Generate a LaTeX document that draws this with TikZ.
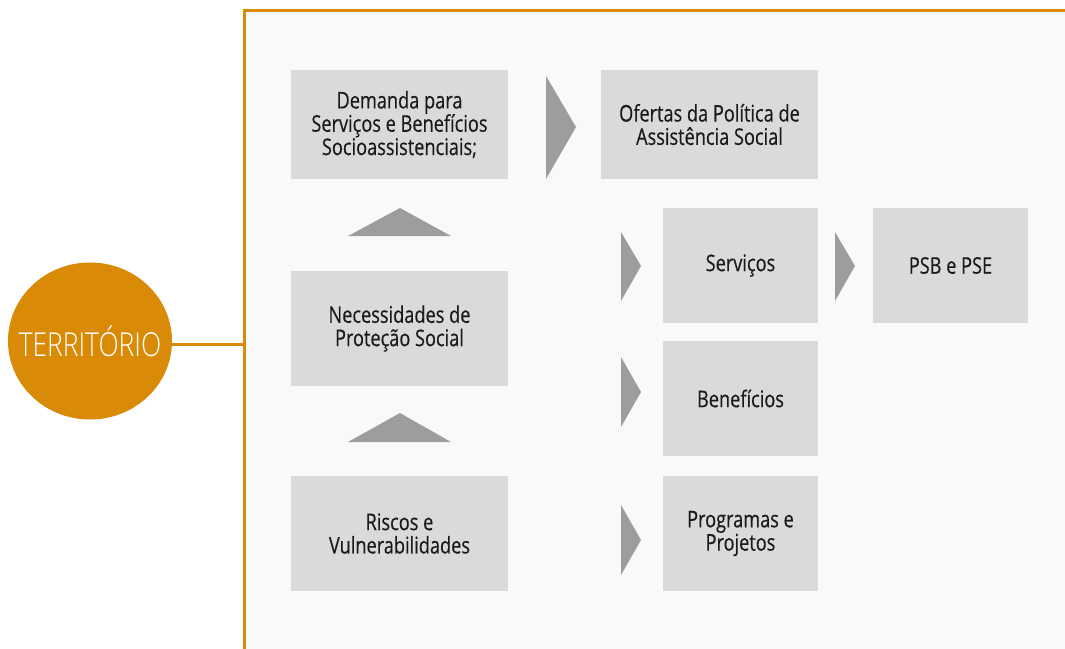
\documentclass[tikz,border=0pt]{standalone}
\usepackage{fontspec}
\setmainfont{Open Sans}[FakeStretch=0.79,FakeBold=0.35]
\newfontfamily\lightfont{Open Sans Light}[FakeStretch=0.8]
\usetikzlibrary{shapes.geometric}
\definecolor{orng}{RGB}{217,138,6}
\definecolor{boxgray}{RGB}{218,218,218}
\definecolor{trigray}{RGB}{157,157,155}
\definecolor{panelbg}{RGB}{249,249,249}
\definecolor{txt}{RGB}{26,26,26}
\tikzset{
  box/.style={fill=boxgray, draw=none, inner sep=0pt, align=center, text=txt,
    font=\fontsize{23}{23.3}\selectfont},
  tri/.style={fill=trigray, draw=none},
}
\begin{document}
\begin{tikzpicture}[x=1pt,y=-1pt]
\useasboundingbox (0,0) rectangle (1065,648);
% panel
\fill[panelbg] (244,10) rectangle (1068,652);
\draw[orng, line width=3pt] (244,652) -- (244,10) -- (1068,10);
\coordinate (pl) at (244,344);
% territorio
\node[ellipse, fill=orng, minimum width=164pt, minimum height=157pt, inner sep=0pt] (terr) at (90,341) {};
\node[text=white, font=\lightfont\fontsize{33}{34}\selectfont, inner sep=0pt] (terrtxt) at (terr.center) {TERRITÓRIO};
\draw[orng, line width=3pt] (terr.east |- pl) -- (pl);
% boxes
\node[box, minimum width=217pt, minimum height=109pt] (dem) at (399.5,124.5) {Demanda para\\Serviços e Benefícios\\Socioassistenciais;};
\node[box, minimum width=217pt, minimum height=109pt] (ofe) at (709.5,124.5) {Ofertas da Política de\\Assistência Social};
\node[box, minimum width=217pt, minimum height=115pt] (nec) at (399.5,328.5) {Necessidades de\\Proteção Social};
\node[box, minimum width=217pt, minimum height=115pt] (ris) at (399.5,533.5) {Riscos e\\Vulnerabilidades};
\node[box, minimum width=155pt, minimum height=115pt] (ser) at (740.5,265.5) {Serviços};
\node[box, minimum width=155pt, minimum height=115pt] (psb) at (950.5,265.5) {PSB e PSE};
\node[box, minimum width=155pt, minimum height=115pt] (ben) at (740.5,398.5) {Benefícios};
\node[box, minimum width=155pt, minimum height=115pt] (pro) at (740.5,533.5) {Programas e\\Projetos};
% triangles
\fill[tri] (546,76) -- (576,127) -- (546,179) -- cycle;
\fill[tri] (348,236) -- (400,208) -- (451,236) -- cycle;
\fill[tri] (348,442) -- (400,413) -- (451,442) -- cycle;
\fill[tri] (621,232) -- (641,266) -- (621,301) -- cycle;
\fill[tri] (835,232) -- (855,266) -- (835,301) -- cycle;
\fill[tri] (621,357) -- (641,392) -- (621,427) -- cycle;
\fill[tri] (621,505) -- (641,540) -- (621,575) -- cycle;
\end{tikzpicture}
\end{document}
